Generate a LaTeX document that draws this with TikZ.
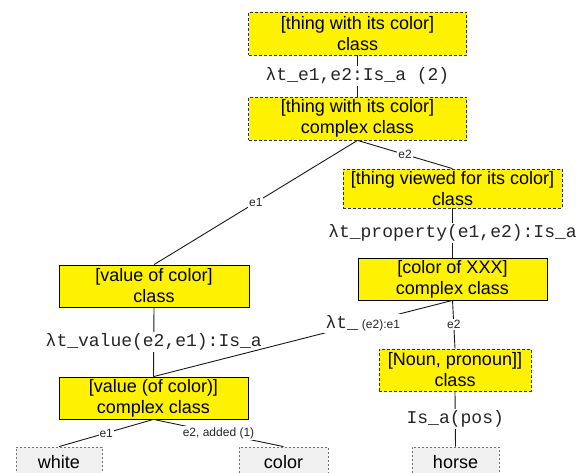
\documentclass[tikz,border=0pt]{standalone}
\usepackage{fontspec}
\setmainfont{Liberation Sans}
\setsansfont{Liberation Sans}
\setmonofont{Liberation Mono}
\begin{document}
\begin{tikzpicture}[x=1pt,y=-1pt,
  box/.style={draw=black, fill=yellow, line width=0.8pt, minimum height=42pt, inner sep=0pt, align=center, font=\fontsize{18}{21}\selectfont},
  dbox/.style={box, draw=black!80, dash pattern=on 3pt off 2pt},
  leaf/.style={draw=black!55, fill=black!6, dash pattern=on 2pt off 2pt, line width=0.8pt, inner sep=0pt, minimum height=30pt, font=\fontsize{18}{21}\selectfont},
  conn/.style={line width=0.9pt, draw=black!90},
  tlab/.style={fill=white, inner sep=1.5pt, font=\fontsize{18}{21}\ttfamily, text=black!85},
  slab/.style={fill=white, inner sep=1pt, font=\fontsize{12}{14}\selectfont, text=black!85},
]
\useasboundingbox (0,0) rectangle (588,472);
\clip (0,0) rectangle (588,472);

\node[dbox, minimum width=218pt, minimum height=43pt] (n1) at (357.5,33.5) {[thing with its color]\\class};
\node[dbox, minimum width=218pt, minimum height=43pt] (n2) at (357.5,118.5) {[thing with its color]\\complex class};
\node[dbox, minimum width=219pt, minimum height=39pt] (n3) at (452.5,188.5) {[thing viewed for its color]\\class};
\node[box, minimum width=189pt] (n4) at (452.5,279) {[color of XXX]\\complex class};
\node[box, minimum width=190pt] (n5) at (154,286) {[value of color]\\class};
\node[box, minimum width=189pt] (n6) at (153.5,398) {[value (of color)]\\complex class};
\node[dbox, minimum width=152pt] (n7) at (455,370) {[Noun, pronoun]]\\class};
\node[leaf, minimum width=86pt] (w) at (59,462) {white};
\node[leaf, minimum width=89pt] (c) at (283.5,462) {color};
\node[leaf, minimum width=87pt] (h) at (455.5,462) {horse};

\draw[conn] (n1.south) -- node[tlab] {λt\_e1,e2:Is\_a (2)} (n2.north);
\draw[conn] (n2.south) -- node[slab] {e1} (n5.north);
\draw[conn] (n2.south) -- node[slab] {e2} (n3.north);
\draw[conn] (n3.south) -- node[tlab] {λt\_property(e1,e2):Is\_a} (n4.north);
\draw[conn] (n5.south) -- node[tlab] {λt\_value(e2,e1):Is\_a} (n6.north);
\draw[conn] (n4.south) -- node[pos=0.3, tlab] {λt\_\hspace{4pt}{\fontsize{12}{14}\sffamily\selectfont (e2):e1}} (n6.north);
\draw[conn] (n4.south) -- node[slab] {e2} (n7.north);
\draw[conn] (n7.south) -- node[tlab] {Is\_a(pos)} (h.north);
\draw[conn] (n6.south) -- node[slab] {e1} (w.north);
\draw[conn] (n6.south) -- node[slab] {e2, added (1)} (c.north);
\end{tikzpicture}
\end{document}
